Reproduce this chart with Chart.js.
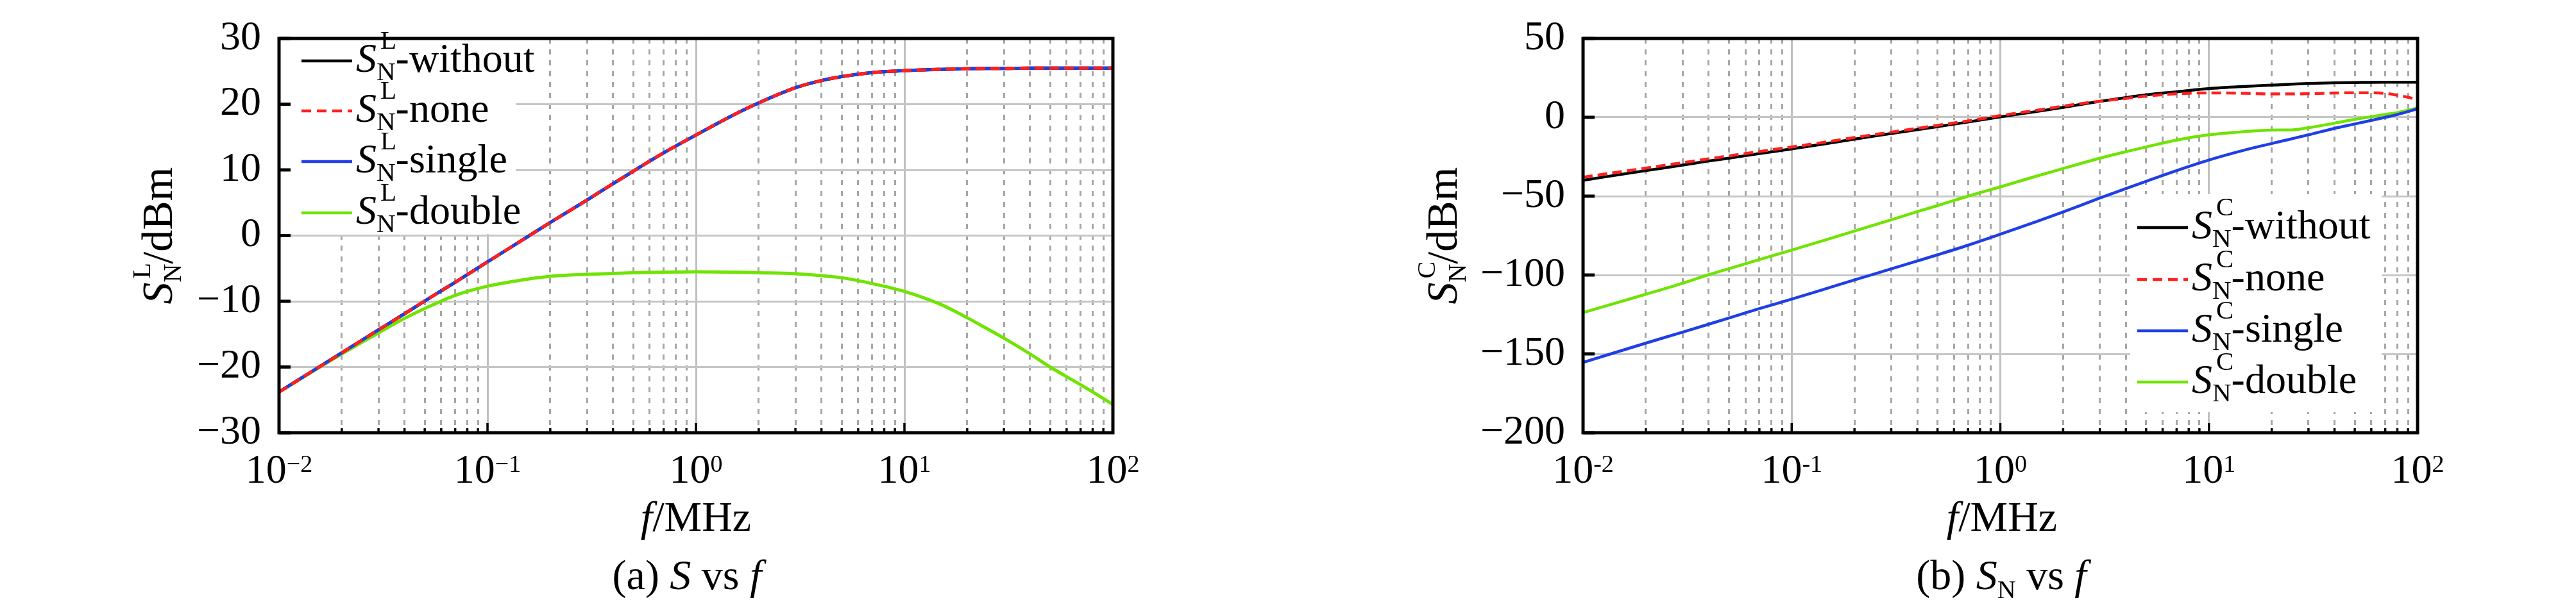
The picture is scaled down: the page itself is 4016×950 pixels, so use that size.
<!DOCTYPE html>
<html>
<head>
<meta charset="utf-8">
<script src="https://cdn.jsdelivr.net/npm/chart.js@4.4.0/dist/chart.umd.min.js"></script>
<style>
  html, body { margin: 0; padding: 0; background: #fff; }
  body { width: 4016px; height: 950px; position: relative; overflow: hidden; }
  .panel { position: absolute; top: 0; width: 2008px; height: 950px; }
</style>
</head>
<body>
<div class="panel" style="left:0"><canvas id="chartL" width="2008" height="950"></canvas></div>
<div class="panel" style="left:2008px"><canvas id="chartC" width="2008" height="950"></canvas></div>
<script>
// frequency points (MHz), shared by every curve
const freq = [0.01, 0.02, 0.03, 0.04, 0.05, 0.07, 0.1, 0.15, 0.2, 0.3, 0.4, 0.5, 0.7, 1, 1.5, 2, 3, 4, 5, 7, 10, 15, 20, 25, 30, 40, 50, 70, 80, 90, 100];

// (a) S_N^L in dBm
const sLWithout = [-23.8, -17.85, -14.35, -11.9, -9.95, -7.1, -4.0, -0.5, 2.0, 5.4, 7.9, 9.8, 12.6, 15.3, 18.3, 20.2, 22.5, 23.6, 24.2, 24.8, 25.1, 25.3, 25.4, 25.45, 25.45, 25.5, 25.5, 25.5, 25.5, 25.5, 25.5];
const sLNone    = [-23.8, -17.85, -14.35, -11.9, -9.95, -7.1, -4.0, -0.5, 2.0, 5.4, 7.9, 9.8, 12.6, 15.3, 18.3, 20.2, 22.5, 23.6, 24.2, 24.8, 25.1, 25.3, 25.4, 25.45, 25.45, 25.5, 25.5, 25.5, 25.5, 25.5, 25.5];
const sLSingle  = [-23.8, -17.85, -14.35, -11.9, -9.95, -7.1, -4.0, -0.5, 2.0, 5.4, 7.9, 9.8, 12.6, 15.3, 18.3, 20.2, 22.5, 23.6, 24.2, 24.8, 25.1, 25.3, 25.4, 25.45, 25.45, 25.5, 25.5, 25.5, 25.5, 25.5, 25.5];
const sLDouble  = [-23.8, -18.0, -14.8, -12.6, -11.1, -9.1, -7.7, -6.7, -6.2, -5.9, -5.75, -5.65, -5.55, -5.5, -5.55, -5.65, -5.8, -6.1, -6.4, -7.3, -8.5, -10.5, -12.5, -14.2, -15.6, -18.0, -20.0, -22.7, -23.8, -24.8, -25.7];

// (b) S_N^C in dBm
const sCWithout = [-39.9, -33.8, -30.3, -27.7, -25.9, -23.0, -20.0, -16.5, -13.8, -10.3, -7.8, -5.9, -3.0, 0.3, 3.7, 6.3, 10.1, 12.5, 14.2, 16.2, 18.2, 19.6, 20.4, 21.0, 21.4, 21.9, 22.1, 22.3, 22.3, 22.3, 22.3];
const sCNone    = [-38.0, -32.2, -28.8, -26.3, -24.5, -21.7, -18.8, -15.4, -12.8, -9.4, -7.0, -5.1, -2.3, 1.1, 4.5, 7.1, 10.2, 12.0, 13.4, 14.9, 15.5, 15.2, 14.8, 14.8, 15.0, 15.4, 15.6, 15.2, 14.0, 12.7, 11.2];
const sCSingle  = [-155.4, -143.2, -136.2, -131.2, -127.3, -121.3, -115.3, -108.2, -103.1, -96.1, -91.1, -87.2, -81.1, -74.1, -66.0, -60.0, -51.2, -45.2, -40.6, -33.8, -27.1, -20.6, -16.6, -13.6, -11.1, -7.0, -4.2, 0.0, 1.8, 3.6, 5.4];
const sCDouble  = [-123.8, -112.2, -105.2, -99.8, -96.0, -90.2, -84.2, -77.2, -72.1, -65.0, -59.8, -56.0, -50.0, -44.1, -37.2, -32.5, -25.9, -21.8, -18.8, -14.4, -11.1, -9.0, -8.1, -8.0, -6.6, -3.7, -1.3, 1.8, 3.0, 4.5, 5.9];

const seriesNames = ['without', 'none', 'single', 'double'];
const yTicksL = [-30, -20, -10, 0, 10, 20, 30];
const yTicksC = [-200, -150, -100, -50, 0, 50];
const xDecades = [0.01, 0.1, 1, 10, 100];
const xExpL = ['\u22122', '\u22121', '0', '1', '2'];
const xExpC = ['-2', '-1', '0', '1', '2'];

const SERIF = '"Liberation Serif", "Times New Roman", serif';
const colors = ['#000000', '#ff1f1f', '#1f3fe6', '#6fe400'];
const drawOrder = [4, 1, 2, 3]; // black at the bottom, red dashes on top

// 1..9 x each decade, for the log grid
const xGrid = [];
xDecades.forEach((d, i) => {
  if (i === xDecades.length - 1) { xGrid.push(d); return; }
  for (let k = 1; k <= 9; k++) xGrid.push(k * d);
});
const isDecade = v => Math.abs(Math.log10(v) - Math.round(Math.log10(v))) < 1e-9;

const font = (size, italic) => (italic ? 'italic ' : '') + size + 'px ' + SERIF;

function richWidth(ctx, parts) {
  let w = 0;
  parts.forEach(p => { ctx.font = p.font; if (!p.stay) w += ctx.measureText(p.text).width; });
  return w;
}
function drawRich(ctx, x, y, parts) {
  parts.forEach(p => {
    ctx.font = p.font;
    ctx.fillText(p.text, x + (p.dx || 0), y + (p.dy || 0));
    if (!p.stay) x += ctx.measureText(p.text).width;
  });
}
// S with subscript N and a superscript letter
function symS(sup, big, small, subDy, supDy) {
  return [
    { text: 'S', font: font(big, true) },
    { text: sup, font: font(small), dy: supDy, dx: 6, stay: true },
    { text: 'N', font: font(small), dy: subDy }
  ];
}

function buildChart(id, o) {
  const datasets = o.series.map((vals, i) => ({
    label: seriesNames[i],
    data: freq.map((f, j) => ({ x: f, y: vals[j] })),
    borderColor: colors[i],
    borderWidth: o.lineW,
    borderDash: i === 1 ? [15, 8] : [],
    pointRadius: 0,
    fill: false,
    cubicInterpolationMode: 'monotone',
    order: drawOrder[i]
  }));

  const decor = {
    id: 'decor',
    afterDraw(chart) {
      const { ctx, chartArea: a } = chart;
      const xs = chart.scales.x, ys = chart.scales.y;
      ctx.save();
      ctx.textAlign = 'left';
      ctx.textBaseline = 'alphabetic';

      // legend
      const b = o.legendBox;
      ctx.fillStyle = '#fff';
      ctx.fillRect(b[0], b[1], b[2] - b[0], b[3] - b[1]);
      o.legendRows.forEach((ry, i) => {
        ctx.beginPath();
        ctx.strokeStyle = colors[i];
        ctx.lineWidth = 4.5;
        ctx.setLineDash(i === 1 ? [15, 9] : []);
        ctx.moveTo(o.legendLine[0], ry);
        ctx.lineTo(o.legendLine[1], ry);
        ctx.stroke();
        ctx.setLineDash([]);
        ctx.fillStyle = '#000';
        drawRich(ctx, o.legendTextX, ry + 17,
          symS(o.sup, 64, 41, 13, -36).concat([{ text: '-' + seriesNames[i], font: font(64) }]));
      });

      // frame
      ctx.strokeStyle = '#000';
      ctx.lineWidth = 5;
      ctx.strokeRect(a.left, a.top, a.right - a.left, a.bottom - a.top);

      // inner tick marks
      ctx.lineWidth = 5;
      o.yTicks.forEach(v => {
        const py = ys.getPixelForValue(v);
        ctx.beginPath(); ctx.moveTo(a.left, py); ctx.lineTo(a.left + 18, py); ctx.stroke();
      });
      ctx.lineWidth = 3.5;
      xGrid.forEach(v => {
        const px = xs.getPixelForValue(v);
        const len = isDecade(v) ? 15 : 7;
        ctx.beginPath(); ctx.moveTo(px, a.bottom); ctx.lineTo(px, a.bottom - len); ctx.stroke();
      });

      // x tick labels 10^n
      ctx.fillStyle = '#000';
      xDecades.forEach((d, i) => {
        const px = xs.getPixelForValue(d);
        const parts = [{ text: '10', font: font(64) }, { text: o.exps[i], font: font(38), dy: -17 }];
        drawRich(ctx, px - richWidth(ctx, parts) / 2, 753, parts);
      });

      // x title
      const xt = [{ text: 'f', font: font(66, true) }, { text: '/MHz', font: font(66) }];
      drawRich(ctx, o.xTitleX - richWidth(ctx, xt) / 2, 828, xt);

      // caption
      drawRich(ctx, o.captionX - richWidth(ctx, o.caption) / 2, 919, o.caption);

      // y title (rotated)
      const yt = symS(o.sup, 68, 40, 14, -34).concat([{ text: '/dBm', font: font(68) }]);
      ctx.translate(o.yTitleX, (a.top + a.bottom) / 2);
      ctx.rotate(-Math.PI / 2);
      drawRich(ctx, -richWidth(ctx, yt) / 2, 0, yt);

      ctx.restore();
    }
  };

  return new Chart(document.getElementById(id), {
    type: 'line',
    data: { datasets },
    options: {
      responsive: false,
      animation: false,
      devicePixelRatio: 1,
      layout: { padding: { left: 0, right: o.padRight, top: o.padTop, bottom: 175 } },
      plugins: { legend: { display: false }, tooltip: { enabled: false } },
      scales: {
        x: {
          type: 'logarithmic',
          min: 0.01,
          max: 100,
          afterBuildTicks: s => { s.ticks = xGrid.map(v => ({ value: v, major: isDecade(v) })); },
          afterFit: s => { s.height = 100; },
          ticks: { display: false },
          grid: {
            drawTicks: false,
            lineWidth: 3,
            color: c => (c.tick && !c.tick.major ? '#a6a6a6' : '#bfbfbf')
          },
          border: { display: false, dash: c => (c.tick && !c.tick.major ? [8, 9] : []) }
        },
        y: {
          type: 'linear',
          min: o.yTicks[0],
          max: o.yTicks[o.yTicks.length - 1],
          afterBuildTicks: s => { s.ticks = o.yTicks.map(v => ({ value: v })); },
          afterFit: s => { s.width = o.yWidth; },
          ticks: {
            color: '#000',
            padding: 28,
            font: { family: SERIF, size: 64, lineHeight: 1 },
            callback: v => (v < 0 ? '\u2212' + (-v) : String(v))
          },
          grid: { drawTicks: false, lineWidth: 3, color: '#c6c6c6' },
          border: { display: false }
        }
      }
    },
    plugins: [decor]
  });
}

buildChart('chartL', {
  series: [sLWithout, sLNone, sLSingle, sLDouble],
  yTicks: yTicksL,
  exps: xExpL,
  sup: 'L',
  lineW: 5,
  yWidth: 435,
  padRight: 273,
  padTop: 36,
  legendBox: [437, 51, 804, 365],
  legendLine: [470, 549],
  legendRows: [95, 173, 252, 332],
  legendTextX: 555,
  yTitleX: 268,
  xTitleX: 1085,
  captionX: 1071,
  caption: [
    { text: '(a) ', font: font(66) },
    { text: 'S', font: font(66, true) },
    { text: ' vs ', font: font(66) },
    { text: 'f', font: font(66, true) }
  ]
});

buildChart('chartC', {
  series: [sCWithout, sCNone, sCSingle, sCDouble],
  yTicks: yTicksC,
  exps: xExpC,
  sup: 'C',
  lineW: 4.5,
  yWidth: 460,
  padRight: 247,
  padTop: 39,
  legendBox: [1313, 303, 1705, 643],
  legendLine: [1324, 1403],
  legendRows: [355, 436, 516, 596],
  legendTextX: 1409,
  yTitleX: 263,
  xTitleX: 1113,
  captionX: 1112,
  caption: [
    { text: '(b) ', font: font(66) },
    { text: 'S', font: font(66, true) },
    { text: 'N', font: font(40), dy: 14 },
    { text: ' vs ', font: font(66) },
    { text: 'f', font: font(66, true) }
  ]
});
</script>
</body>
</html>
